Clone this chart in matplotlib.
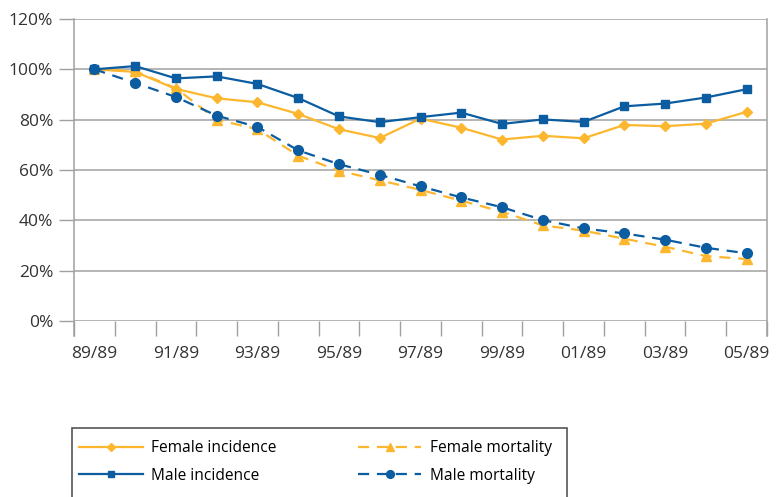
import matplotlib
matplotlib.use('Agg')
import matplotlib.pyplot as plt
from matplotlib.patches import Rectangle
from matplotlib.ticker import FixedLocator, PercentFormatter

plt.rcParams['font.family'] = ['Open Sans', 'DejaVu Sans']

years = ['89/89', '90/89', '91/89', '92/89', '93/89', '94/89', '95/89', '96/89', '97/89',
         '98/89', '99/89', '00/89', '01/89', '02/89', '03/89', '04/89', '05/89']

femaleIncidence = [100, 99, 92.2, 88.5, 86.9, 82.3, 76.2, 72.7, 80.4, 76.8, 72.1, 73.6, 72.6, 77.9, 77.4, 78.4, 83.1]
maleIncidence = [100, 101.3, 96.4, 97.2, 94.2, 88.6, 81.3, 79.0, 81.0, 82.8, 78.3, 80.1, 79.1, 85.3, 86.4, 88.8, 92.1]
femaleMortality = [100, 99.3, 92.5, 80.0, 76.2, 65.7, 59.7, 55.9, 52.1, 47.8, 43.4, 38.0, 35.9, 32.7, 29.5, 25.8, 24.6]
maleMortality = [100, 94.6, 89.0, 81.6, 77.1, 67.8, 62.3, 58.1, 53.5, 49.1, 45.2, 40.1, 36.8, 34.8, 32.3, 29.1, 26.9]

orange = '#FCB72F'
blue = '#0B5CA0'
grey = '#A0A0A0'

fig = plt.figure(figsize=(7.84, 4.97), dpi=100)
ax = fig.add_axes([74 / 784, 1 - 321 / 497, (767 - 74) / 784, (321 - 19) / 497])

x = range(len(years))
dash = (0, (5, 3.5))
ax.plot(x, femaleIncidence, color=orange, lw=1.6, marker='D', ms=5.5, label='Female incidence', zorder=3)
ax.plot(x, maleIncidence, color=blue, lw=1.6, marker='s', ms=6, label='Male incidence', zorder=4)
ax.plot(x, femaleMortality, color=orange, lw=1.6, ls=dash, marker='^', ms=7, label='Female mortality', zorder=3)
ax.plot(x, maleMortality, color=blue, lw=1.6, ls=dash, marker='o', ms=7, label='Male mortality', zorder=4)

ax.set_xlim(-0.5, len(years) - 0.5)
ax.set_ylim(0, 120)
ax.set_yticks(range(0, 121, 20))
ax.yaxis.set_major_formatter(PercentFormatter(decimals=0))
ax.grid(axis='y', color=grey, lw=1.1)
ax.set_axisbelow(True)

# boundaries get the tick marks, every second category gets a label
ax.xaxis.set_major_locator(FixedLocator([i - 0.5 for i in range(len(years) + 1)]))
ax.xaxis.set_minor_locator(FixedLocator(list(range(0, len(years), 2))))
ax.set_xticklabels([])
ax.set_xticklabels([years[i] for i in range(0, len(years), 2)], minor=True)
ax.tick_params(axis='x', which='major', length=10.5, width=1, color=grey)
ax.tick_params(axis='x', which='minor', length=0, pad=18, labelsize=12.5, labelcolor='#333333')
ax.tick_params(axis='y', length=11, width=1, color=grey, pad=4, labelsize=12.5, labelcolor='#333333')

for s in ['top', 'bottom']:
  ax.spines[s].set_visible(False)
for s in ['left', 'right']:
  ax.spines[s].set_color(grey)
  ax.spines[s].set_linewidth(1.1)
  ax.spines[s].set_bounds(-6, 120)

fig.patches.append(Rectangle((72 / 784, -10 / 497), (567 - 72) / 784, (497 + 10 - 428) / 497,
                             transform=fig.transFigure, fill=False, edgecolor='#555555', lw=1.2))

fig.legend(loc='upper left', bbox_to_anchor=(76 / 784, 1 - 437 / 497), ncol=2, frameon=False,
           fontsize=11.2, handlelength=4.1, handletextpad=0.55, columnspacing=5.2, labelspacing=0.75,
           markerscale=0.8, borderaxespad=0, borderpad=0.2)

fig.savefig('out.png', dpi=100)
